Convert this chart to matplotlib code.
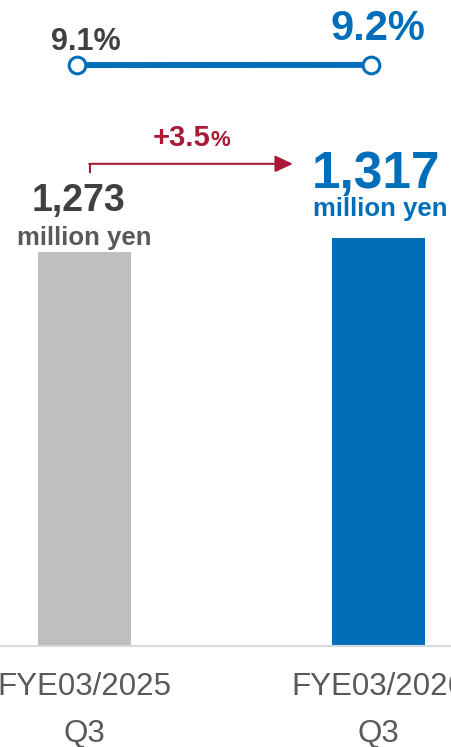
import matplotlib.pyplot as plt
import numpy as np

periods = ["FYE03/2025\nQ3", "FYE03/2026\nQ3"]
sales = [1273, 1317]          # million yen
margin = [9.1, 9.2]           # %
bar_colors = ["#BFBFBF", "#006EB8"]

BLUE = "#006EB8"
RED = "#A81A35"
DARK = "#404040"
GRAY = "#595959"
plt.rcParams['font.family'] = ['Liberation Sans', 'DejaVu Sans']

fig = plt.figure(figsize=(4.52, 7.47), dpi=100)
ax = fig.add_axes([0, 101 / 747, 1, 646 / 747])
x = np.arange(len(sales))

ax.bar(x, sales, width=0.316, color=bar_colors, zorder=2)
ax.set_xlim(-0.2874, 1.25)
ax.set_ylim(0, 2086)

for s in ["top", "left", "right"]:
    ax.spines[s].set_visible(False)
ax.spines["bottom"].set_color("#D9D9D9")
ax.spines["bottom"].set_linewidth(1.5)
ax.set_yticks([])
ax.set_xticks(x)
ax.set_xticklabels(periods, fontsize=22.5, color=GRAY, linespacing=1.72)
ax.tick_params(axis="x", length=0, pad=19)

# value labels
ax.annotate(f"{sales[0]:,}", (x[0], sales[0]), xytext=(-4, 29), textcoords="offset points",
            ha="center", va="baseline", fontsize=27, fontweight="bold", color=DARK)
ax.annotate("million yen", (x[0], sales[0]), xytext=(0, 5), textcoords="offset points",
            ha="center", va="baseline", fontsize=18.5, fontweight="bold", color=GRAY)
ax.annotate(f"{sales[1]:,}", (x[1], sales[1]), xytext=(-2, 36), textcoords="offset points",
            ha="center", va="baseline", fontsize=37, fontweight="bold", color=BLUE)
ax.annotate("million yen", (x[1], sales[1]), xytext=(1, 16), textcoords="offset points",
            ha="center", va="baseline", fontsize=18.5, fontweight="bold", color=BLUE)

# growth arrow
change = (sales[1] / sales[0] - 1) * 100
ax.plot([0.019, 0.019], [1528, 1557], color=RED, lw=1.5, solid_capstyle="butt")
ax.annotate("", xy=(0.709, 1557), xytext=(0.016, 1557),
            arrowprops=dict(arrowstyle="-|>,head_length=0.9,head_width=0.42",
                            mutation_scale=12, color=RED, lw=1.5, shrinkA=0, shrinkB=0))
ax.text(0.427, 1615, f"+{change:.1f}", ha="right", va="baseline",
        fontsize=21, fontweight="bold", color=RED)
ax.text(0.427, 1615, "%", ha="left", va="baseline",
        fontsize=16, fontweight="bold", color=RED)

# margin line
ax2 = ax.twinx()
ax2.set_ylim(-350.6, 49.39)
ax2.axis("off")
lx = x - 0.025
ax2.plot(lx, margin, color=BLUE, lw=4.3, marker="o", markersize=12,
         markerfacecolor="white", markeredgecolor=BLUE, markeredgewidth=2.2,
         solid_capstyle="butt", clip_on=False)
ax2.annotate(f"{margin[0]}%", (lx[0], margin[0]), xytext=(6.5, 11), textcoords="offset points",
             ha="center", va="baseline", fontsize=22, fontweight="bold", color=DARK)
ax2.annotate(f"{margin[1]}%", (lx[1], margin[1]), xytext=(5, 18), textcoords="offset points",
             ha="center", va="baseline", fontsize=30, fontweight="bold", color=BLUE)

fig.savefig("out.png", dpi=100)
